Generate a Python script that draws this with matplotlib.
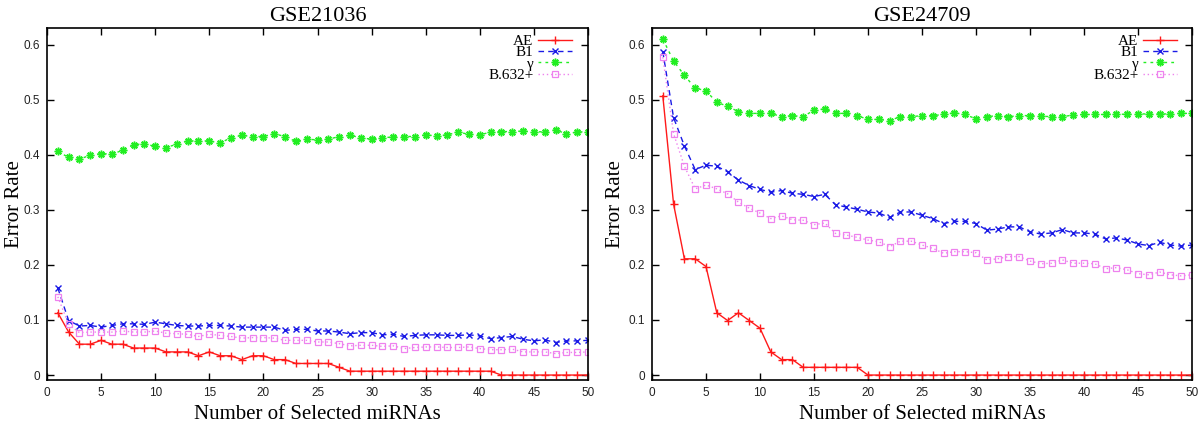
import matplotlib
matplotlib.use("Agg")
import matplotlib.pyplot as plt
import numpy as np

# ---------------- data ----------------
n_selected = list(range(1, 51))

titles = ["GSE21036", "GSE24709"]
series_labels = ["AE", "B1", "\u03b3", "B.632+"]

gse21036_ae = [0.113, 0.078, 0.056, 0.056, 0.063, 0.056, 0.056, 0.049, 0.049, 0.049,
               0.042, 0.042, 0.042, 0.035, 0.042, 0.035, 0.035, 0.028, 0.035, 0.035,
               0.028, 0.028, 0.021, 0.021, 0.021, 0.021, 0.014, 0.007, 0.007, 0.007,
               0.007, 0.007, 0.007, 0.007, 0.007, 0.007, 0.007, 0.007, 0.007, 0.007,
               0.007, 0.0, 0.0, 0.0, 0.0, 0.0, 0.0, 0.0, 0.0, 0.0]
gse21036_b1 = [0.158, 0.099, 0.089, 0.090, 0.087, 0.090, 0.093, 0.093, 0.092, 0.096,
               0.093, 0.090, 0.089, 0.089, 0.090, 0.090, 0.089, 0.087, 0.087, 0.087,
               0.087, 0.081, 0.083, 0.083, 0.080, 0.080, 0.078, 0.075, 0.077, 0.077,
               0.073, 0.074, 0.070, 0.072, 0.073, 0.073, 0.072, 0.072, 0.073, 0.071,
               0.066, 0.068, 0.070, 0.065, 0.062, 0.064, 0.059, 0.062, 0.062, 0.063]
gse21036_gamma = [0.406, 0.395, 0.392, 0.399, 0.402, 0.401, 0.408, 0.418, 0.420, 0.415,
                  0.413, 0.419, 0.425, 0.425, 0.425, 0.421, 0.431, 0.435, 0.433, 0.433,
                  0.438, 0.433, 0.424, 0.428, 0.427, 0.428, 0.433, 0.435, 0.431, 0.428,
                  0.431, 0.432, 0.433, 0.433, 0.436, 0.434, 0.436, 0.441, 0.437, 0.436,
                  0.441, 0.442, 0.442, 0.443, 0.441, 0.442, 0.445, 0.438, 0.441, 0.442]
gse21036_b632 = [0.142, 0.092, 0.077, 0.078, 0.078, 0.078, 0.080, 0.078, 0.078, 0.080,
                 0.076, 0.075, 0.074, 0.070, 0.074, 0.072, 0.070, 0.067, 0.068, 0.068,
                 0.067, 0.063, 0.063, 0.063, 0.060, 0.060, 0.057, 0.053, 0.054, 0.054,
                 0.052, 0.053, 0.048, 0.050, 0.051, 0.051, 0.050, 0.050, 0.051, 0.048,
                 0.046, 0.046, 0.047, 0.042, 0.042, 0.042, 0.039, 0.041, 0.041, 0.042]

gse24709_ae = [0.507, 0.310, 0.211, 0.211, 0.197, 0.113, 0.099, 0.113, 0.099, 0.085,
               0.042, 0.028, 0.028, 0.014, 0.014, 0.014, 0.014, 0.014, 0.014, 0.0,
               0.0, 0.0, 0.0, 0.0, 0.0, 0.0, 0.0, 0.0, 0.0, 0.0,
               0.0, 0.0, 0.0, 0.0, 0.0, 0.0, 0.0, 0.0, 0.0, 0.0,
               0.0, 0.0, 0.0, 0.0, 0.0, 0.0, 0.0, 0.0, 0.0, 0.0]
gse24709_b1 = [0.587, 0.467, 0.416, 0.373, 0.381, 0.379, 0.369, 0.354, 0.344, 0.337,
               0.332, 0.335, 0.330, 0.328, 0.324, 0.328, 0.309, 0.305, 0.301, 0.296,
               0.294, 0.286, 0.296, 0.296, 0.290, 0.284, 0.275, 0.279, 0.279, 0.275,
               0.263, 0.265, 0.269, 0.269, 0.260, 0.256, 0.258, 0.264, 0.258, 0.258,
               0.256, 0.247, 0.249, 0.245, 0.238, 0.235, 0.241, 0.236, 0.234, 0.236]
gse24709_gamma = [0.610, 0.570, 0.544, 0.521, 0.516, 0.495, 0.488, 0.478, 0.475, 0.475,
                  0.475, 0.469, 0.471, 0.469, 0.481, 0.483, 0.475, 0.475, 0.471, 0.464,
                  0.464, 0.462, 0.469, 0.469, 0.471, 0.471, 0.473, 0.476, 0.473, 0.465,
                  0.469, 0.471, 0.469, 0.471, 0.471, 0.470, 0.469, 0.469, 0.472, 0.473,
                  0.473, 0.473, 0.474, 0.473, 0.474, 0.474, 0.474, 0.474, 0.475, 0.475]
gse24709_b632 = [0.577, 0.438, 0.379, 0.338, 0.345, 0.338, 0.329, 0.314, 0.303, 0.294,
                 0.284, 0.289, 0.282, 0.281, 0.273, 0.276, 0.257, 0.254, 0.250, 0.245,
                 0.242, 0.233, 0.243, 0.243, 0.236, 0.230, 0.221, 0.224, 0.224, 0.222,
                 0.209, 0.211, 0.215, 0.215, 0.207, 0.202, 0.203, 0.209, 0.203, 0.203,
                 0.202, 0.193, 0.195, 0.191, 0.184, 0.182, 0.187, 0.182, 0.180, 0.182]

x_ticks = list(range(0, 51, 5))
y_ticks = [0, 0.1, 0.2, 0.3, 0.4, 0.5, 0.6]
y_tick_labels = ["0", "0.1", "0.2", "0.3", "0.4", "0.5", "0.6"]
x_label = "Number of Selected miRNAs"
y_label = "Error Rate"

# ---------------- styles ----------------
serif = ["Liberation Serif", "DejaVu Serif"]
sans = ["Liberation Sans", "DejaVu Sans"]
styles = [
    dict(color="#ff1a1a", linestyle="-", marker="+", markersize=6, mew=1.0),
    dict(color="#1a1ae6", linestyle=(0, (4, 3)), marker="x", markersize=4.5, mew=1.0),
    dict(color="#22ee22", linestyle=(0, (2, 3)), marker=(8, 2, 0), markersize=5.5, mew=1.1),
    dict(color="#ee82ee", linestyle=(0, (1, 2)), marker="s", markersize=5, mew=0.9,
         markerfacecolor="none"),
]

fig = plt.figure(figsize=(12, 4.23), dpi=100)
positions = [[47 / 1200, 1 - 380 / 423, 541 / 1200, 352 / 423],
             [652 / 1200, 1 - 380 / 423, 540 / 1200, 352 / 423]]
ylabel_x = [-0.042, -0.050]
legend_x = [0.970, 0.972]
datasets = [
    [gse21036_ae, gse21036_b1, gse21036_gamma, gse21036_b632],
    [gse24709_ae, gse24709_b1, gse24709_gamma, gse24709_b632],
]

for pos, title, data, ylx, lgx in zip(positions, titles, datasets, ylabel_x, legend_x):
    ax = fig.add_axes(pos)
    for vals, lab, st in zip(data, series_labels, styles):
        ax.plot(n_selected, vals, label=lab, linewidth=1.0, **st)
    ax.set_xlim(0, 50)
    ax.set_ylim(-0.009, 0.63)
    ax.set_xticks(x_ticks)
    ax.set_yticks(y_ticks)
    ax.set_yticklabels(y_tick_labels)
    ax.tick_params(direction="in", length=5, width=1, top=True, right=True,
                   labelsize=8.5, pad=5)
    for lbl in ax.get_xticklabels() + ax.get_yticklabels():
        lbl.set_family(sans)
        lbl.set_color("#222222")
    for sp in ax.spines.values():
        sp.set_linewidth(1.2)
    ax.set_title(title, family=serif, fontsize=16, pad=5)
    ax.set_xlabel(x_label, family=serif, fontsize=15, labelpad=4)
    ax.set_ylabel(y_label, family=serif, fontsize=15)
    ax.yaxis.set_label_coords(ylx, 0.5)
    ax.legend(loc="upper right", markerfirst=False, frameon=False,
              prop={"family": serif, "size": 11}, handlelength=2.2,
              handletextpad=0.3, labelspacing=-0.15, borderaxespad=0.0,
              borderpad=0.0, bbox_to_anchor=(lgx, 0.982))

fig.savefig("out.png", dpi=100)
